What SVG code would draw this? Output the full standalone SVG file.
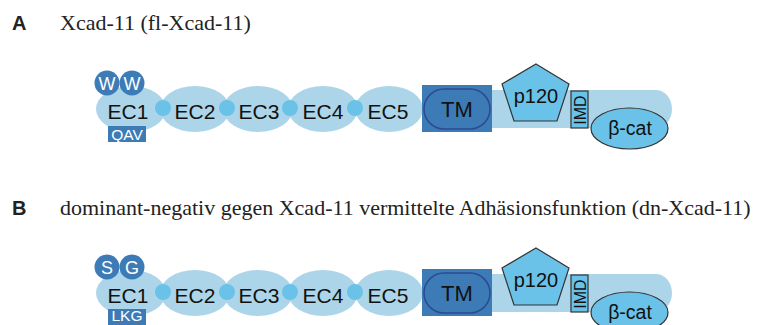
<svg xmlns="http://www.w3.org/2000/svg" width="758" height="325" viewBox="0 0 758 325">
  <style>
    .label { font-family: "Liberation Sans", Arial, sans-serif; fill: #111; text-anchor: middle; }
    .panel { font-family: "Liberation Sans", Arial, sans-serif; font-weight: bold; font-size: 20px; fill: #222; }
    .title { font-family: "Liberation Serif", "Times New Roman", serif; font-size: 22px; fill: #222; }
    .ec { fill: #acd5ea; }
    .linker { fill: #6ac2e9; }
    .dark { fill: #3d7bb7; }
    .white { font-family: "Liberation Sans", Arial, sans-serif; fill: #fff; text-anchor: middle; }
    .tail { fill: #acd5ea; }
    .mid { fill: #6ac2e9; stroke: #333; stroke-width: 1.2; }
  </style>

  <!-- Panel A: full-length Xcad-11 -->
  <g id="panelA">
    <text class="panel" x="12" y="30">A</text>
    <text class="title" x="60" y="30">Xcad-11 (fl-Xcad-11)</text>

    <g id="A-tail">
      <path class="tail" d="M490 90 H656 A16 19 0 0 1 672 109 A16 19 0 0 1 656 128 H490 Z"/>
    </g>
    <g id="A-ec1">
      <ellipse class="ec" cx="131" cy="109" rx="35" ry="23"/>
      <text class="label" x="128" y="119" font-size="21">EC1</text>
    </g>
    <g id="A-ec2">
      <ellipse class="ec" cx="195" cy="109" rx="35" ry="23"/>
      <text class="label" x="195" y="119" font-size="21">EC2</text>
    </g>
    <g id="A-ec3">
      <ellipse class="ec" cx="258" cy="109" rx="35" ry="23"/>
      <text class="label" x="259" y="119" font-size="21">EC3</text>
    </g>
    <g id="A-ec4">
      <ellipse class="ec" cx="323" cy="109" rx="35" ry="23"/>
      <text class="label" x="323" y="119" font-size="21">EC4</text>
    </g>
    <g id="A-ec5">
      <ellipse class="ec" cx="389" cy="109" rx="34" ry="23"/>
      <text class="label" x="388" y="119" font-size="21">EC5</text>
    </g>
    <g id="A-ww">
      <circle class="dark" cx="107" cy="83" r="12.5"/>
      <circle class="dark" cx="132" cy="83" r="12.5"/>
      <text class="white" x="107" y="89.5" font-size="18">W</text>
      <text class="white" x="132" y="89.5" font-size="18">W</text>
    </g>
    <g id="A-qav">
      <rect class="dark" x="108" y="126" width="38" height="16"/>
      <text class="white" x="127" y="139.5" font-size="15.5">QAV</text>
    </g>
    <g id="A-tm">
      <rect class="dark" x="422" y="85" width="70" height="47"/>
      <rect x="424" y="89" width="66" height="40" rx="20" fill="#3d7bb7" stroke="#2d4a91" stroke-width="1.5"/>
      <text class="label" x="457" y="117" font-size="22">TM</text>
    </g>
    <g id="A-p120">
      <polygon class="mid" points="536,64 569,84 557,121 514,121 502,84"/>
      <text class="label" x="536" y="103" font-size="20">p120</text>
    </g>
    <g id="A-imd">
      <rect class="mid" x="571" y="91" width="17" height="37"/>
      <text class="label" transform="translate(585.5 110) rotate(-90)" font-size="16">IMD</text>
    </g>
    <g id="A-bcat">
      <ellipse class="mid" cx="629.5" cy="128.5" rx="38.5" ry="20.5"/>
      <text class="label" x="630" y="135" font-size="19.5">β-cat</text>
    </g>
    <g id="A-connectors">
      <circle class="linker" cx="163" cy="108" r="8"/>
      <circle class="linker" cx="227" cy="108" r="8"/>
      <circle class="linker" cx="290" cy="108" r="8"/>
      <circle class="linker" cx="355" cy="108" r="8"/>
    </g>
  </g>

  <!-- Panel B: dominant-negative construct -->
  <g id="panelB">
    <text class="panel" x="12" y="215">B</text>
    <text class="title" x="60" y="215">dominant-negativ gegen Xcad-11 vermittelte Adhäsionsfunktion (dn-Xcad-11)</text>

    <g transform="translate(0 184)">
      <g id="B-tail">
        <path class="tail" d="M490 90 H656 A16 19 0 0 1 672 109 A16 19 0 0 1 656 128 H490 Z"/>
      </g>
      <g id="B-ec1">
        <ellipse class="ec" cx="131" cy="109" rx="35" ry="23"/>
        <text class="label" x="128" y="119" font-size="21">EC1</text>
      </g>
      <g id="B-ec2">
        <ellipse class="ec" cx="195" cy="109" rx="35" ry="23"/>
        <text class="label" x="195" y="119" font-size="21">EC2</text>
      </g>
      <g id="B-ec3">
        <ellipse class="ec" cx="258" cy="109" rx="35" ry="23"/>
        <text class="label" x="259" y="119" font-size="21">EC3</text>
      </g>
      <g id="B-ec4">
        <ellipse class="ec" cx="323" cy="109" rx="35" ry="23"/>
        <text class="label" x="323" y="119" font-size="21">EC4</text>
      </g>
      <g id="B-ec5">
        <ellipse class="ec" cx="389" cy="109" rx="34" ry="23"/>
        <text class="label" x="388" y="119" font-size="21">EC5</text>
      </g>
      <g id="B-sg">
        <circle class="dark" cx="107" cy="83" r="12.5"/>
        <circle class="dark" cx="132" cy="83" r="12.5"/>
        <text class="white" x="107" y="89.5" font-size="18">S</text>
        <text class="white" x="132" y="89.5" font-size="18">G</text>
      </g>
      <g id="B-lkg">
        <rect class="dark" x="108" y="125" width="38" height="17"/>
        <text class="white" x="127" y="137" font-size="15.5">LKG</text>
      </g>
      <g id="B-tm">
        <rect class="dark" x="422" y="85" width="70" height="47"/>
        <rect x="424" y="89" width="66" height="40" rx="20" fill="#3d7bb7" stroke="#2d4a91" stroke-width="1.5"/>
        <text class="label" x="457" y="117" font-size="22">TM</text>
      </g>
      <g id="B-p120">
        <polygon class="mid" points="536,64 569,84 557,121 514,121 502,84"/>
        <text class="label" x="536" y="103" font-size="20">p120</text>
      </g>
      <g id="B-imd">
        <rect class="mid" x="571" y="91" width="17" height="37"/>
        <text class="label" transform="translate(585.5 110) rotate(-90)" font-size="16">IMD</text>
      </g>
      <g id="B-bcat">
        <ellipse class="mid" cx="629.5" cy="128.5" rx="38.5" ry="20.5"/>
        <text class="label" x="630" y="135" font-size="19.5">β-cat</text>
      </g>
      <g id="B-connectors">
        <circle class="linker" cx="163" cy="108" r="8"/>
        <circle class="linker" cx="227" cy="108" r="8"/>
        <circle class="linker" cx="290" cy="108" r="8"/>
        <circle class="linker" cx="355" cy="108" r="8"/>
      </g>
    </g>
  </g>
</svg>
